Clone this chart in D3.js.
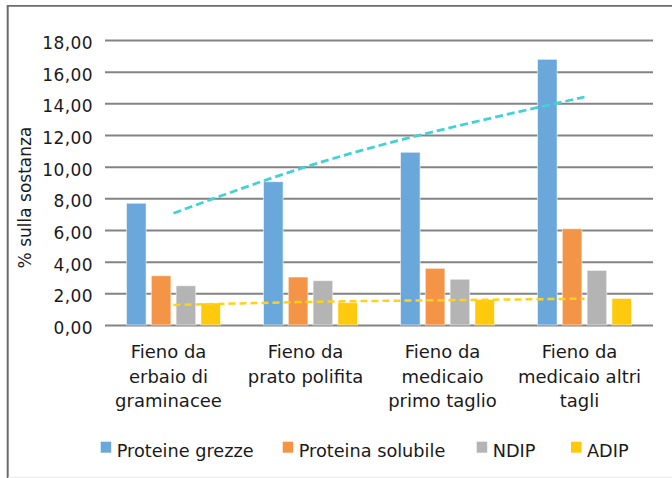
<!DOCTYPE html>
<html>
<head>
<meta charset="utf-8">
<script src="https://cdn.jsdelivr.net/npm/d3@7"></script>
<style>
  html, body { margin: 0; padding: 0; background: #fff; }
  svg { display: block; font-family: "DejaVu Sans", Verdana, sans-serif; }
</style>
</head>
<body>
<div id="chart"></div>
<script>
(function () {
  "use strict";

  // data
  const categories = [
    ["Fieno da", "erbaio di", "graminacee"],
    ["Fieno da", "prato polifita"],
    ["Fieno da", "medicaio", "primo taglio"],
    ["Fieno da", "medicaio altri", "tagli"]
  ];
  const seriesNames = ["Proteine grezze", "Proteina solubile", "NDIP", "ADIP"];
  const proteineGrezze = [7.69, 9.05, 10.91, 16.78];
  const proteinaSolubile = [3.11, 3.03, 3.58, 6.08];
  const ndip = [2.48, 2.80, 2.89, 3.45];
  const adip = [1.39, 1.41, 1.62, 1.68];
  const trendGrezze = [7.06, 10.08, 12.42, 14.40];
  const trendAdip = [1.26, 1.46, 1.57, 1.66];
  const yTicks = [0, 2, 4, 6, 8, 10, 12, 14, 16, 18];

  const colors = ["#6aa8dc", "#f39446", "#b4b4b4", "#ffc90e"];
  const legendX = [100.7, 282.7, 476.7, 571];

  const width = 672, height = 478;
  const plot = { left: 105, right: 653, top: 40, bottom: 325 };

  const svg = d3.select("#chart").append("svg").attr("width", width).attr("height", height);

  // frame
  svg.append("line").attr("x1", 7.7).attr("x2", 7.7).attr("y1", 5).attr("y2", height)
    .attr("stroke", "#6b6b6b").attr("stroke-width", 2);
  svg.append("line").attr("x1", 7).attr("x2", width).attr("y1", 5.8).attr("y2", 5.8)
    .attr("stroke", "#6b6b6b").attr("stroke-width", 1.7);
  svg.append("line").attr("x1", 8).attr("x2", width).attr("y1", 477.3).attr("y2", 477.3)
    .attr("stroke", "#e6e6e6").attr("stroke-width", 1);

  const values = [proteineGrezze, proteinaSolubile, ndip, adip];
  const idx = categories.map(function (_, i) { return i; });

  const x0 = d3.scaleBand().domain(idx).range([plot.left, plot.right]).paddingInner(0.314).paddingOuter(0.157);
  const x1 = d3.scaleBand().domain(d3.range(seriesNames.length)).range([0, x0.bandwidth()]).paddingInner(0.21);
  const y = d3.scaleLinear().domain([0, 18]).range([plot.bottom, plot.top]);

  const it = d3.formatLocale({ decimal: ",", thousands: ".", grouping: [3], currency: ["", " €"] });
  const fmt = it.format(".2f");

  // gridlines + tick labels
  const yAxis = svg.append("g")
    .attr("transform", "translate(" + plot.left + ",0)")
    .call(d3.axisLeft(y).tickValues(yTicks).tickFormat(fmt).tickSize(-(plot.right - plot.left)).tickPadding(12))
    .call(function (g) {
      g.select(".domain").remove();
      g.selectAll("line").attr("stroke", "#838383").attr("stroke-width", 2);
      g.selectAll("text").attr("fill", "#1a1a1a").attr("font-size", 17)
        .attr("font-family", "DejaVu Sans, Verdana, sans-serif").attr("letter-spacing", 0.4)
        .attr("dy", "0.5em");
    });

  // bars
  const groups = svg.append("g").selectAll("g")
    .data(idx)
    .enter()
    .append("g")
    .attr("transform", function (i) { return "translate(" + x0(i) + ",0)"; });

  groups.selectAll("rect")
    .data(function (i) { return values.map(function (s, k) { return { k: k, v: s[i] }; }); })
    .enter()
    .append("rect")
    .attr("x", function (d) { return x1(d.k); })
    .attr("width", x1.bandwidth())
    .attr("y", function (d) { return y(d.v); })
    .attr("height", function (d) { return y(0) - y(d.v); })
    .attr("fill", function (d) { return colors[d.k]; })
    .attr("stroke", "rgba(255,255,255,0.55)")
    .attr("stroke-width", 1);

  // trend lines
  const cx = function (i) { return x0(i) + x0.bandwidth() / 2; };
  const line = d3.line()
    .x(function (d, i) { return cx(i); })
    .y(function (d) { return y(d); })
    .curve(d3.curveNatural);

  svg.append("path").datum(trendGrezze).attr("d", line)
    .attr("fill", "none").attr("stroke", "#3fd2d6").attr("stroke-width", 2.75)
    .attr("stroke-dasharray", "8,4");
  svg.append("path").datum(trendAdip).attr("d", line)
    .attr("fill", "none").attr("stroke", "#ffd21a").attr("stroke-width", 2.5)
    .attr("stroke-dasharray", "7,4");

  // category labels
  const catLabels = svg.append("g").selectAll("text")
    .data(categories)
    .enter()
    .append("text")
    .attr("x", function (_, i) { return cx(i) - 5; })
    .attr("y", 358)
    .attr("text-anchor", "middle")
    .attr("font-size", 18)
    .attr("fill", "#1a1a1a");
  catLabels.selectAll("tspan")
    .data(function (d, i) { return d.map(function (t) { return { t: t, i: i }; }); })
    .enter()
    .append("tspan")
    .attr("x", function (d) { return cx(d.i) - 5; })
    .attr("dy", function (_, j) { return j === 0 ? 0 : 24.7; })
    .text(function (d) { return d.t; });

  // y title
  svg.append("text")
    .attr("transform", "translate(31,197.5) rotate(-90)")
    .attr("text-anchor", "middle")
    .attr("font-size", 17)
    .attr("fill", "#1a1a1a")
    .text("% sulla sostanza");

  // legend
  const legend = svg.append("g").selectAll("g")
    .data(seriesNames)
    .enter()
    .append("g")
    .attr("transform", function (_, i) { return "translate(" + legendX[i] + ",0)"; });
  legend.append("rect").attr("x", 0).attr("y", 441.7).attr("width", 10.5).attr("height", 11)
    .attr("fill", function (_, i) { return colors[i]; });
  legend.append("text").attr("x", 16).attr("y", 456.7)
    .attr("font-size", 17.7).attr("fill", "#1a1a1a")
    .text(function (d) { return d; });
})();
</script>
</body>
</html>
